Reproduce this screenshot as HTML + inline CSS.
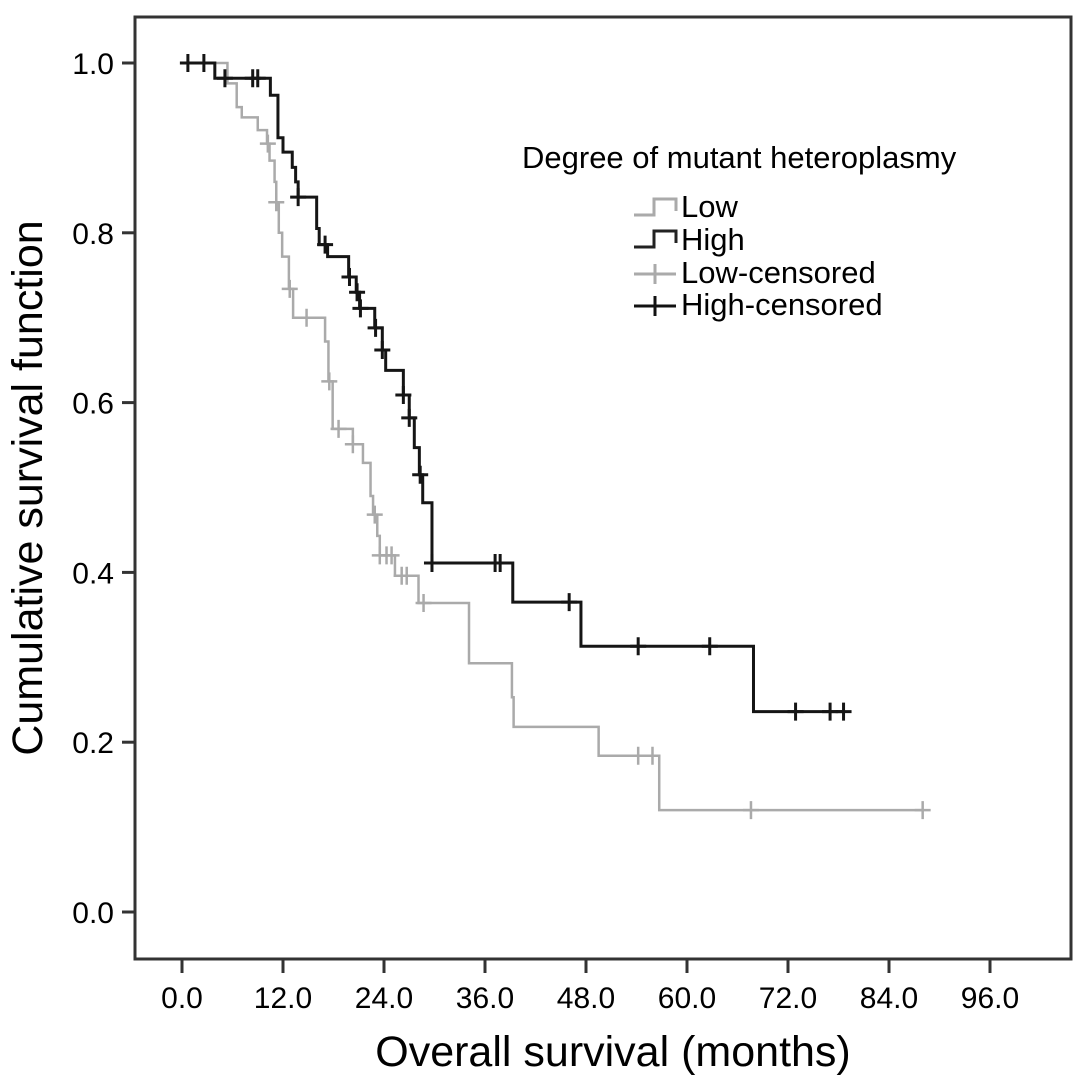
<!DOCTYPE html>
<html><head><meta charset="utf-8"><style>
body{margin:0;background:#fff;}
svg{display:block;font-family:"Liberation Sans",Arial,sans-serif;}
</style></head><body>
<svg id="chart" width="1087" height="1090" viewBox="0 0 1087 1090">
<rect x="0" y="0" width="1087" height="1090" fill="#fff"/>
<rect x="135" y="17" width="936" height="942" fill="none" stroke="#333" stroke-width="3"/>
<g id="axes"></g>
<g id="series"></g>
<text x="42" y="488" font-size="43" text-anchor="middle" transform="rotate(-90 42 488)">Cumulative survival function</text>
<text x="613" y="1066" font-size="43" text-anchor="middle">Overall survival (months)</text>
<g>
<text x="522" y="168" font-size="31">Degree of mutant heteroplasmy</text>
<g><path d="M634 215h20v-16h22v12" fill="none" stroke="#aaa" stroke-width="3"/><text x="681" y="217" font-size="31">Low</text></g>
<g><path d="M634 247h20v-16h22v12" fill="none" stroke="#222" stroke-width="3"/><text x="681" y="250" font-size="31">High</text></g>
<g><path d="M634 274h42M655 264v20" fill="none" stroke="#aaa" stroke-width="3"/><text x="681" y="283" font-size="31">Low-censored</text></g>
<g><path d="M634 306h42M655 296v20" fill="none" stroke="#111" stroke-width="3"/><text x="681" y="315" font-size="31">High-censored</text></g>
</g>
</svg>
<script>
const xTicks=[0,12,24,36,48,60,72,84,96];
const xTickLabels=["0.0","12.0","24.0","36.0","48.0","60.0","72.0","84.0","96.0"];
const yTicks=[0,0.2,0.4,0.6,0.8,1.0];
const yTickLabels=["0.0","0.2","0.4","0.6","0.8","1.0"];
const highTimes=[3.9,10.5,11.4,12.0,13.1,13.5,13.8,16.0,16.3,17.3,19.8,20.7,21.1,22.9,23.8,24.2,26.3,27.0,27.6,28.2,28.6,29.7,39.3,47.4,67.9];
const highSurv=[0.982,0.962,0.912,0.895,0.877,0.860,0.842,0.805,0.786,0.772,0.748,0.730,0.711,0.688,0.662,0.638,0.609,0.582,0.547,0.515,0.482,0.411,0.365,0.313,0.236];
const highCensored=[0.7,2.6,5.1,8.4,9.0,13.8,17.0,19.9,20.8,21.2,23.0,23.8,26.3,27.0,28.3,29.7,37.2,37.8,46.0,54.2,62.7,72.9,77.0,78.6];
const highEnd=78.6;
const lowTimes=[5.4,6.5,7.1,9.0,10.1,10.4,11.0,11.2,11.5,11.9,12.7,13.2,17.0,17.4,17.9,20.3,21.5,22.4,22.7,23.2,23.5,25.3,28.1,34.1,39.2,39.4,49.5,56.7];
const lowSurv=[0.976,0.948,0.936,0.921,0.905,0.885,0.860,0.836,0.800,0.772,0.734,0.700,0.672,0.625,0.569,0.551,0.529,0.490,0.468,0.443,0.420,0.396,0.364,0.293,0.253,0.218,0.184,0.120];
const lowCensored=[10.2,11.2,12.8,14.8,17.5,18.6,20.3,22.9,23.5,24.3,24.9,26.1,26.7,28.7,54.2,55.9,67.6,88.0];
const lowEnd=88.0;

const NS="http://www.w3.org/2000/svg";
const xs=m=>182+m*(990-182)/96;
const ys=v=>912-v*849;
function mk(tag,attrs,parent){const e=document.createElementNS(NS,tag);for(const k in attrs)e.setAttribute(k,attrs[k]);parent.appendChild(e);return e;}
const axes=document.getElementById('axes');
xTicks.forEach((t,i)=>{
  const l=mk('line',{x1:xs(t),x2:xs(t),y1:959,y2:973,stroke:'#333','stroke-width':3},axes);
  
  
  const tx=mk('text',{x:xs(t),y:1008,'font-size':30,'text-anchor':'middle'},axes);
  tx.textContent=xTickLabels[i];
  
  
});
yTicks.forEach((t,i)=>{
  const l=mk('line',{x1:122,x2:135,y1:ys(t),y2:ys(t),stroke:'#333','stroke-width':3},axes);
  
  
  const tx=mk('text',{x:114,y:ys(t)+11,'font-size':30,'text-anchor':'end'},axes);
  tx.textContent=yTickLabels[i];
  
  
});
function survAt(times,surv,t){let s=1;for(let i=0;i<times.length;i++){if(times[i]<=t)s=surv[i];}return s;}
function drawSeries(times,surv,cens,end,color,w,name){
  const g=document.getElementById('series');
  let d='M'+xs(0)+' '+ys(1);
  times.forEach((t,i)=>{d+=' H'+xs(t)+' V'+ys(surv[i]);});
  d+=' H'+xs(end);
  const p=mk('path',{d:d,fill:'none',stroke:color,'stroke-width':w},g);
  
  
  cens.forEach(t=>{
    const y=ys(survAt(times,surv,t));
    const c=mk('path',{d:'M'+(xs(t)-8)+' '+y+'h16M'+xs(t)+' '+(y-9)+'v18',stroke:color,'stroke-width':w,fill:'none'},g);
    
    
  });
}
drawSeries(lowTimes,lowSurv,lowCensored,lowEnd,'#aaa',2.5,'low');
drawSeries(highTimes,highSurv,highCensored,highEnd,'#151515',3,'high');
</script>
</body></html>
